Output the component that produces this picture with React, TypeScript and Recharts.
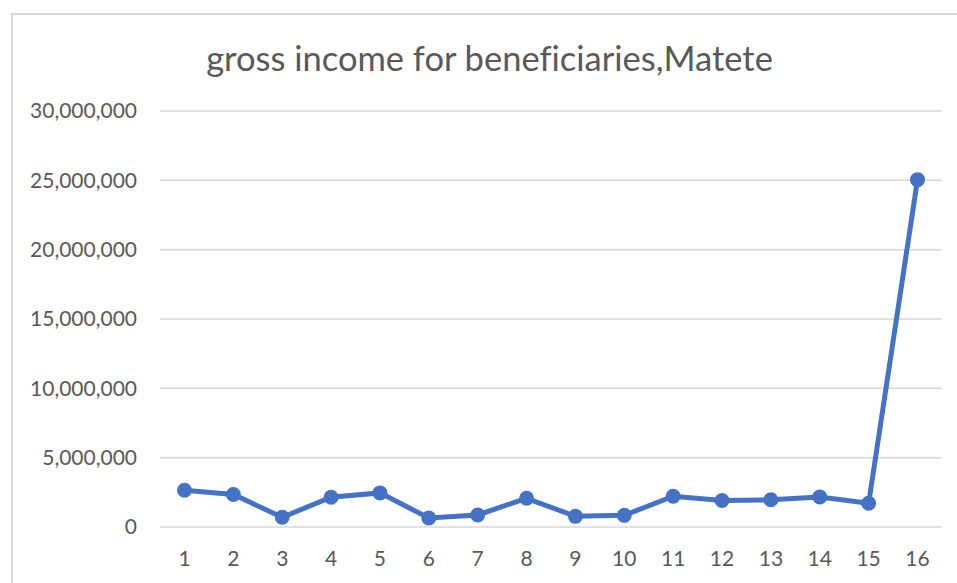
import React from 'react';
import { LineChart, Line, XAxis, YAxis, CartesianGrid } from 'recharts';

const categories = ['1', '2', '3', '4', '5', '6', '7', '8', '9', '10', '11', '12', '13', '14', '15', '16'];
const grossIncome = [
  2650000, 2340000, 700000, 2150000, 2460000, 650000, 870000, 2070000,
  770000, 840000, 2220000, 1910000, 1960000, 2170000, 1710000, 25050000,
];
const yTicks = [0, 5000000, 10000000, 15000000, 20000000, 25000000, 30000000];

const data = categories.map((c, i) => ({ name: c, value: grossIncome[i] }));

const FONT = 'Lato, "Open Sans", sans-serif';
const TEXT = '#595959';
const GRID = '#d9d9d9';
const BLUE = '#4472C4';

export default function App() {
  return (
    <div
      style={{
        position: 'fixed',
        left: 0,
        top: 0,
        width: 957,
        height: 583,
        overflow: 'hidden',
        background: '#fff',
      }}
    >
      {/* chart frame, cut off at right and bottom like the screenshot */}
      <div
        style={{
          position: 'absolute',
          left: 11,
          top: 13,
          width: 1000,
          height: 640,
          borderLeft: `2px solid ${GRID}`,
          borderTop: `2px solid ${GRID}`,
        }}
      />
      <div
        style={{
          position: 'absolute',
          left: 0,
          width: 979,
          top: 37.5,
          textAlign: 'center',
          fontFamily: FONT,
          fontSize: 34.5,
          fontVariantLigatures: 'none',
          color: TEXT,
          lineHeight: '40px',
          whiteSpace: 'nowrap',
        }}
      >
        gross income for beneficiaries,Matete
      </div>
      <div style={{ position: 'absolute', left: 0, top: 0 }}>
        <LineChart
          width={957}
          height={583}
          data={data}
          margin={{ top: 111, right: 15, left: 0, bottom: 26 }}
        >
          <CartesianGrid vertical={false} stroke={GRID} strokeWidth={1.5} />
          <XAxis
            dataKey="name"
            axisLine={false}
            tickLine={false}
            tickSize={0}
            tickMargin={24}
            height={30}
            interval={0}
            padding={{ left: 24.5, right: 24.5 }}
            tick={{ fill: TEXT, fontSize: 21, fontFamily: FONT }}
          />
          <YAxis
            domain={[0, 30000000]}
            ticks={yTicks}
            width={160}
            axisLine={false}
            tickLine={false}
            tickSize={0}
            tickMargin={23}
            interval={0}
            tickFormatter={(v: number) => v.toLocaleString('en-US')}
            tick={{ fill: TEXT, fontSize: 21, fontFamily: FONT }}
          />
          <Line
            type="linear"
            dataKey="value"
            stroke={BLUE}
            strokeWidth={5}
            dot={{ r: 6.5, fill: BLUE, stroke: BLUE, strokeWidth: 2 }}
            activeDot={false}
            isAnimationActive={false}
          />
        </LineChart>
      </div>
    </div>
  );
}
